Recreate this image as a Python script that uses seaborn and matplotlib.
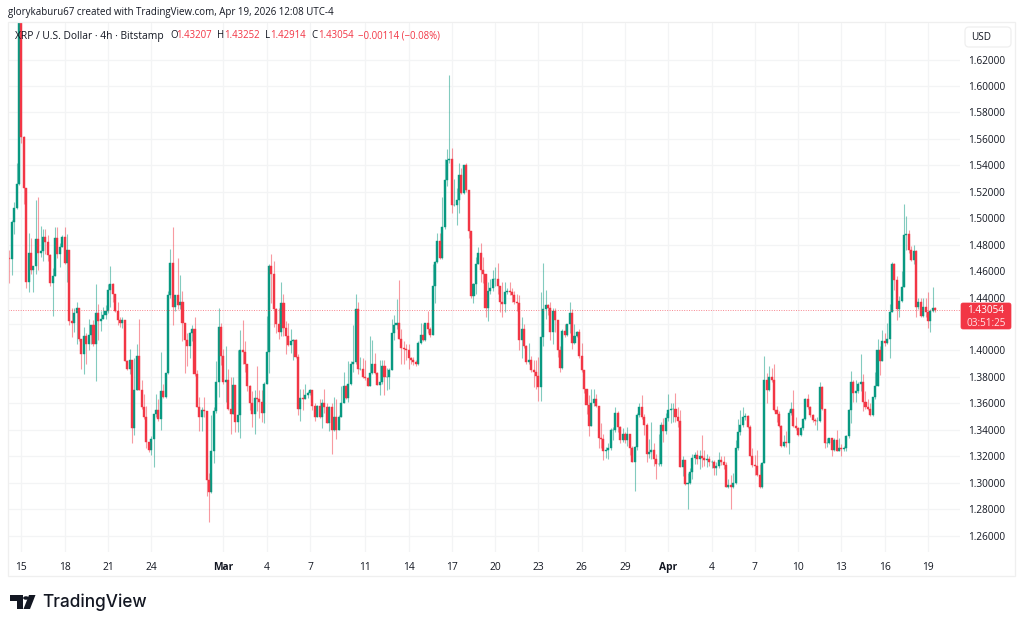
import matplotlib
matplotlib.use("Agg")
import matplotlib.pyplot as plt
from matplotlib.patches import FancyBboxPatch, Polygon, Rectangle, Circle
import numpy as np
import pandas as pd
import seaborn as sns

first_open = 1.470

closes = [
    1.469,1.497,1.508,1.526,1.660,1.5615,1.5225,1.452,1.474,1.461,
    1.464,1.484,1.474,1.475,1.486,1.482,1.472,1.451,1.456,1.485,
    1.473,1.478,1.486,1.466,1.476,1.422,1.421,1.428,1.432,1.409,
    1.397,1.411,1.405,1.412,1.419,1.405,1.428,1.422,1.424,1.427,
    1.430,1.446,1.450,1.443,1.430,1.423,1.421,1.423,1.392,1.386,
    1.393,1.341,1.370,1.396,1.370,1.357,1.350,1.331,1.325,1.333,
    1.352,1.355,1.348,1.369,1.365,1.383,1.442,1.466,1.433,1.442,
    1.434,1.437,1.421,1.408,1.403,1.413,1.416,1.382,1.357,1.350,
    1.355,1.354,1.302,1.293,1.324,1.354,1.376,1.418,1.396,1.376,
    1.378,1.356,1.352,1.374,1.346,1.351,1.400,1.399,1.390,1.373,
    1.360,1.352,1.364,1.363,1.361,1.353,1.375,1.399,1.464,1.458,
    1.431,1.420,1.414,1.436,1.417,1.411,1.404,1.407,1.408,1.395,
    1.356,1.364,1.363,1.366,1.368,1.370,1.358,1.350,1.358,1.350,
    1.360,1.357,1.345,1.357,1.340,1.350,1.340,1.350,1.360,1.373,
    1.364,1.375,1.390,1.391,1.431,1.386,1.386,1.380,1.379,1.373,
    1.383,1.390,1.383,1.374,1.376,1.388,1.380,1.380,1.385,1.413,
    1.419,1.421,1.409,1.402,1.401,1.400,1.394,1.393,1.391,1.390,
    1.406,1.412,1.408,1.421,1.416,1.412,1.449,1.467,1.483,1.470,
    1.493,1.529,1.544,1.545,1.510,1.510,1.514,1.533,1.519,1.540,
    1.521,1.490,1.441,1.450,1.465,1.474,1.461,1.458,1.432,1.445,
    1.447,1.454,1.454,1.449,1.437,1.435,1.444,1.445,1.444,1.442,
    1.437,1.436,1.408,1.416,1.403,1.391,1.393,1.385,1.384,1.381,
    1.372,1.410,1.431,1.434,1.432,1.414,1.430,1.423,1.400,1.387,
    1.415,1.412,1.420,1.428,1.406,1.411,1.414,1.396,1.385,1.371,
    1.359,1.343,1.360,1.363,1.358,1.334,1.333,1.324,1.325,1.326,
    1.340,1.340,1.353,1.342,1.332,1.337,1.332,1.337,1.326,1.316,
    1.327,1.351,1.357,1.350,1.344,1.322,1.323,1.325,1.318,1.314,
    1.314,1.344,1.339,1.349,1.355,1.356,1.356,1.350,1.347,1.312,
    1.317,1.299,1.300,1.308,1.319,1.321,1.318,1.320,1.319,1.317,
    1.318,1.316,1.316,1.311,1.313,1.317,1.316,1.3135,1.297,1.298,
    1.2966,1.2996,1.326,1.338,1.344,1.350,1.3505,1.342,1.320,1.3135,
    1.313,1.306,1.297,1.315,1.378,1.370,1.380,1.378,1.355,1.352,
    1.343,1.328,1.331,1.330,1.3525,1.356,1.343,1.341,1.336,1.341,
    1.348,1.363,1.357,1.351,1.3475,1.347,1.347,1.372,1.356,1.330,
    1.330,1.334,1.325,1.332,1.324,1.326,1.3253,1.326,1.335,1.355,
    1.3765,1.3677,1.369,1.375,1.376,1.361,1.3575,1.356,1.351,1.3647,
    1.373,1.400,1.392,1.407,1.406,1.409,1.429,1.465,1.453,1.431,
    1.4377,1.448,1.487,1.488,1.476,1.4685,1.475,1.4327,1.4365,1.426,
    1.4327,1.4294,1.422,1.430,1.43207,1.43054,
]

highs = [
    1.476,1.499,1.512,1.542,1.700,1.700,1.5625,1.523,1.489,1.485,
    1.462,1.514,1.516,1.494,1.492,1.492,1.487,1.473,1.462,1.493,
    1.493,1.481,1.487,1.493,1.488,1.476,1.432,1.432,1.437,1.431,
    1.409,1.418,1.413,1.424,1.419,1.423,1.450,1.435,1.430,1.433,
    1.434,1.450,1.464,1.451,1.443,1.437,1.425,1.425,1.423,1.393,
    1.401,1.393,1.394,1.405,1.424,1.378,1.367,1.358,1.331,1.335,
    1.352,1.367,1.363,1.399,1.375,1.383,1.445,1.477,1.493,1.442,
    1.470,1.457,1.445,1.421,1.413,1.414,1.419,1.425,1.385,1.365,
    1.357,1.365,1.354,1.307,1.351,1.357,1.392,1.432,1.421,1.401,
    1.403,1.386,1.380,1.380,1.374,1.400,1.4155,1.423,1.407,1.390,
    1.374,1.369,1.370,1.388,1.370,1.370,1.376,1.426,1.465,1.473,
    1.468,1.432,1.432,1.452,1.443,1.422,1.421,1.416,1.409,1.409,
    1.397,1.371,1.371,1.375,1.369,1.371,1.370,1.360,1.359,1.363,
    1.363,1.371,1.360,1.358,1.360,1.365,1.363,1.351,1.373,1.384,
    1.374,1.392,1.392,1.419,1.443,1.437,1.395,1.394,1.393,1.380,
    1.411,1.408,1.398,1.384,1.393,1.393,1.393,1.387,1.387,1.424,
    1.427,1.439,1.453,1.416,1.407,1.405,1.405,1.395,1.395,1.393,
    1.407,1.421,1.420,1.421,1.430,1.418,1.465,1.468,1.489,1.489,
    1.516,1.545,1.552,1.608,1.553,1.530,1.523,1.542,1.538,1.540,
    1.542,1.520,1.489,1.451,1.471,1.478,1.481,1.471,1.458,1.452,
    1.454,1.461,1.463,1.466,1.449,1.452,1.452,1.447,1.452,1.447,
    1.445,1.443,1.442,1.425,1.420,1.404,1.406,1.396,1.393,1.393,
    1.395,1.444,1.466,1.446,1.435,1.437,1.432,1.432,1.423,1.403,
    1.416,1.420,1.420,1.437,1.431,1.420,1.415,1.416,1.406,1.385,
    1.371,1.366,1.371,1.371,1.367,1.358,1.345,1.337,1.327,1.330,
    1.341,1.342,1.357,1.354,1.343,1.341,1.338,1.342,1.337,1.328,
    1.328,1.353,1.360,1.366,1.352,1.345,1.333,1.346,1.330,1.322,
    1.337,1.346,1.349,1.353,1.367,1.360,1.360,1.368,1.357,1.355,
    1.320,1.317,1.307,1.311,1.322,1.323,1.325,1.325,1.336,1.325,
    1.322,1.320,1.317,1.317,1.316,1.323,1.320,1.320,1.316,1.303,
    1.306,1.307,1.332,1.348,1.355,1.357,1.353,1.351,1.344,1.326,
    1.321,1.325,1.314,1.316,1.396,1.383,1.388,1.387,1.390,1.358,
    1.354,1.344,1.336,1.339,1.355,1.361,1.370,1.350,1.342,1.342,
    1.349,1.364,1.367,1.358,1.352,1.349,1.350,1.376,1.373,1.356,
    1.334,1.334,1.334,1.334,1.340,1.334,1.329,1.328,1.336,1.356,
    1.3845,1.378,1.378,1.376,1.397,1.382,1.369,1.363,1.360,1.365,
    1.384,1.409,1.403,1.4156,1.413,1.421,1.435,1.467,1.466,1.456,
    1.441,1.460,1.511,1.502,1.491,1.479,1.480,1.476,1.440,1.4395,
    1.4395,1.4395,1.444,1.431,1.448,1.43252,
]

lows = [
    1.451,1.457,1.488,1.507,1.525,1.557,1.511,1.447,1.444,1.458,
    1.444,1.458,1.461,1.471,1.468,1.473,1.468,1.449,1.426,1.456,
    1.470,1.463,1.478,1.465,1.452,1.419,1.410,1.414,1.405,1.407,
    1.386,1.382,1.390,1.400,1.405,1.403,1.377,1.408,1.415,1.424,
    1.424,1.428,1.433,1.437,1.429,1.419,1.418,1.417,1.392,1.385,
    1.382,1.330,1.336,1.370,1.370,1.356,1.348,1.326,1.323,1.321,
    1.312,1.350,1.347,1.340,1.364,1.364,1.382,1.440,1.419,1.430,
    1.431,1.431,1.407,1.383,1.388,1.394,1.407,1.381,1.357,1.339,
    1.339,1.350,1.290,1.270,1.292,1.315,1.353,1.365,1.389,1.375,
    1.361,1.355,1.337,1.352,1.338,1.338,1.334,1.390,1.384,1.369,
    1.355,1.342,1.337,1.354,1.349,1.346,1.345,1.375,1.383,1.436,
    1.418,1.413,1.409,1.411,1.411,1.397,1.403,1.398,1.393,1.394,
    1.351,1.347,1.355,1.363,1.364,1.366,1.355,1.347,1.350,1.349,
    1.341,1.353,1.345,1.339,1.322,1.339,1.333,1.340,1.350,1.360,
    1.363,1.361,1.374,1.384,1.390,1.382,1.385,1.379,1.378,1.373,
    1.373,1.382,1.382,1.374,1.366,1.375,1.366,1.370,1.371,1.385,
    1.408,1.416,1.409,1.390,1.390,1.393,1.386,1.390,1.389,1.388,
    1.389,1.405,1.407,1.407,1.413,1.410,1.412,1.436,1.466,1.469,
    1.469,1.492,1.524,1.542,1.504,1.509,1.495,1.504,1.518,1.518,
    1.520,1.485,1.440,1.436,1.443,1.465,1.452,1.451,1.425,1.422,
    1.443,1.445,1.449,1.443,1.429,1.425,1.429,1.443,1.442,1.437,
    1.435,1.430,1.400,1.394,1.402,1.390,1.390,1.384,1.372,1.371,
    1.362,1.362,1.403,1.424,1.427,1.408,1.405,1.414,1.395,1.384,
    1.386,1.410,1.411,1.413,1.401,1.405,1.410,1.394,1.384,1.368,
    1.352,1.335,1.343,1.358,1.357,1.326,1.326,1.317,1.319,1.318,
    1.325,1.332,1.338,1.338,1.330,1.331,1.330,1.328,1.321,1.316,
    1.294,1.325,1.350,1.348,1.336,1.316,1.319,1.318,1.313,1.303,
    1.313,1.313,1.331,1.337,1.347,1.345,1.346,1.346,1.342,1.312,
    1.305,1.298,1.280,1.299,1.303,1.314,1.314,1.310,1.312,1.313,
    1.312,1.313,1.311,1.306,1.306,1.311,1.3135,1.310,1.297,1.296,
    1.280,1.296,1.299,1.325,1.336,1.342,1.3475,1.341,1.320,1.312,
    1.306,1.305,1.296,1.296,1.315,1.360,1.369,1.376,1.354,1.346,
    1.342,1.327,1.327,1.327,1.322,1.351,1.342,1.340,1.335,1.335,
    1.340,1.3475,1.356,1.350,1.346,1.344,1.340,1.346,1.355,1.326,
    1.327,1.329,1.320,1.324,1.324,1.324,1.320,1.324,1.324,1.334,
    1.345,1.361,1.361,1.368,1.369,1.354,1.356,1.355,1.3505,1.3505,
    1.363,1.373,1.3815,1.392,1.403,1.405,1.394,1.429,1.446,1.423,
    1.425,1.437,1.448,1.476,1.4735,1.468,1.465,1.4256,1.431,1.425,
    1.4256,1.4256,1.417,1.414,1.4294,1.42914,
]

# day labels, with the candle number where each day starts
date_positions = [5, 23, 41, 59, 89, 107, 125, 148, 166, 184, 202, 220, 238, 256, 274, 292, 310, 328, 346, 364, 382]
date_labels = ["15", "18", "21", "24", "Mar", "4", "7", "11", "14", "17", "20", "23", "26", "29", "Apr", "4", "7", "10", "13", "16", "19"]

price_ticks = [1.26, 1.28, 1.30, 1.32, 1.34, 1.36, 1.38, 1.40, 1.42, 1.44, 1.46, 1.48, 1.50, 1.52, 1.54, 1.56, 1.58, 1.60, 1.62]
last_price = 1.43054

GREEN = "#089981"
RED = "#F23645"
TEXT = "#131722"
GRID = "#F3F4F5"
FONT = "Open Sans"


def px(x, y):
    # pixel position on the picture to figure fraction
    return x / 1024, 1 - y / 627


sns.set_theme(style="white")
plt.rcParams["font.family"] = [FONT, "DejaVu Sans"]

df = pd.DataFrame({"candle": np.arange(len(closes)), "close": closes, "high": highs, "low": lows})
df["open"] = [first_open] + closes[:-1]
df["bottom"] = df[["open", "close"]].min(axis=1)
df["body"] = (df["close"] - df["open"]).abs()
df["up"] = df["close"] >= df["open"]

fig = plt.figure(figsize=(10.24, 6.27), dpi=100)
ax = fig.add_axes([8 / 1024, 1 - 552 / 627, 952 / 1024, 529 / 627])

# wicks first, bodies on top
for up, colour in [(True, GREEN), (False, RED)]:
    part = df[df["up"] == up]
    ax.vlines(part["candle"], part["low"], part["high"], color=colour, lw=0.8, alpha=0.5, zorder=2)
    sns.barplot(
        data=part, x="candle", y="body", bottom=part["bottom"].values, color=colour, saturation=1,
        native_scale=True, width=0.85, errorbar=None, edgecolor=colour, linewidth=0.3, ax=ax, zorder=3,
    )

ax.axhline(last_price, color=RED, lw=0.7, ls=(0, (1, 1.5)), alpha=0.6, zorder=4)

ax.set_xlim(-0.55, 395.3)
ax.set_ylim(1.2476, 1.6476)
ax.set_xlabel("")
ax.set_ylabel("")
ax.set_axisbelow(True)
ax.set_xticks(date_positions)
ax.set_xticklabels(date_labels)
for label in ax.get_xticklabels():
    if label.get_text() in ("Mar", "Apr"):
        label.set_fontweight("bold")
ax.set_yticks(price_ticks)
ax.set_yticklabels(["" if p == 1.42 else f"{p:.5f}" for p in price_ticks])
ax.yaxis.tick_right()
ax.tick_params(axis="x", length=0, pad=7, labelsize=7.4, labelcolor=TEXT)
ax.tick_params(axis="y", length=0, pad=6, labelsize=7.2, labelcolor=TEXT)
ax.grid(True, color=GRID, lw=0.9)
for side in ax.spines.values():
    side.set_visible(False)

# outer frame of the chart
fig.add_artist(Rectangle(px(8, 576), 1007 / 1024, 554 / 627, transform=fig.transFigure, fill=False, ec="#EFEFEF", lw=0.9))

fig.text(*px(8, 13), "glorykaburu67 created with TradingView.com, Apr 19, 2026 12:08 UTC-4",
         fontsize=7.0, color=TEXT, va="center", ha="left")

# legend row above the candles
legend_parts = [
    (15, "XRP / U.S. Dollar · 4h · Bitstamp", TEXT), (170, "O", TEXT), (176, "1.43207", RED),
    (217, "H", TEXT), (224, "1.43252", RED), (265, "L", TEXT), (270, "1.42914", RED),
    (311, "C", TEXT), (318, "1.43054", RED), (358, "−0.00114 (−0.08%)", RED),
]
for x, txt, colour in legend_parts:
    size = 7.4 if x == 15 else 6.9
    fig.text(*px(x, 36), txt, fontsize=size, color=colour, va="center", ha="left", zorder=6)

# USD button
fig.add_artist(FancyBboxPatch(px(965, 47), 46 / 1024, 20 / 627, boxstyle="round,pad=0,rounding_size=0.004",
                              transform=fig.transFigure, fc="white", ec="#EFEFEF", lw=0.9, mutation_aspect=1.6))
fig.text(*px(971, 37), "USD", fontsize=7.2, color=TEXT, va="center", ha="left")

# last price tag
fig.add_artist(FancyBboxPatch(px(961, 329), 50 / 1024, 26 / 627, boxstyle="round,pad=0,rounding_size=0.002",
                              transform=fig.transFigure, fc=RED, ec=RED, lw=0.5, mutation_aspect=1.6))
fig.text(*px(986, 310.5), f"{last_price:.5f}", fontsize=7.2, color="white", va="center", ha="center")
fig.text(*px(986, 323), "03:51:25", fontsize=7.2, color="#FFE3E5", va="center", ha="center")

# TradingView logo
for shape in [
    Polygon([px(10, 595), px(23, 595), px(23, 609), px(16.5, 609), px(16.5, 601), px(10, 601)], transform=fig.transFigure, fc=TEXT, ec="none"),
    Circle(px(26, 598), 0.0028, transform=fig.transFigure, fc=TEXT, ec="none"),
    Polygon([px(29, 595), px(35.5, 595), px(30, 609), px(23.5, 609)], transform=fig.transFigure, fc=TEXT, ec="none"),
]:
    fig.add_artist(shape)
fig.text(*px(42, 602), "TradingView", fontsize=12.4, color=TEXT, va="center", ha="left", family=["Inter", "DejaVu Sans"], fontweight="medium")

fig.savefig("out.png", dpi=100)
